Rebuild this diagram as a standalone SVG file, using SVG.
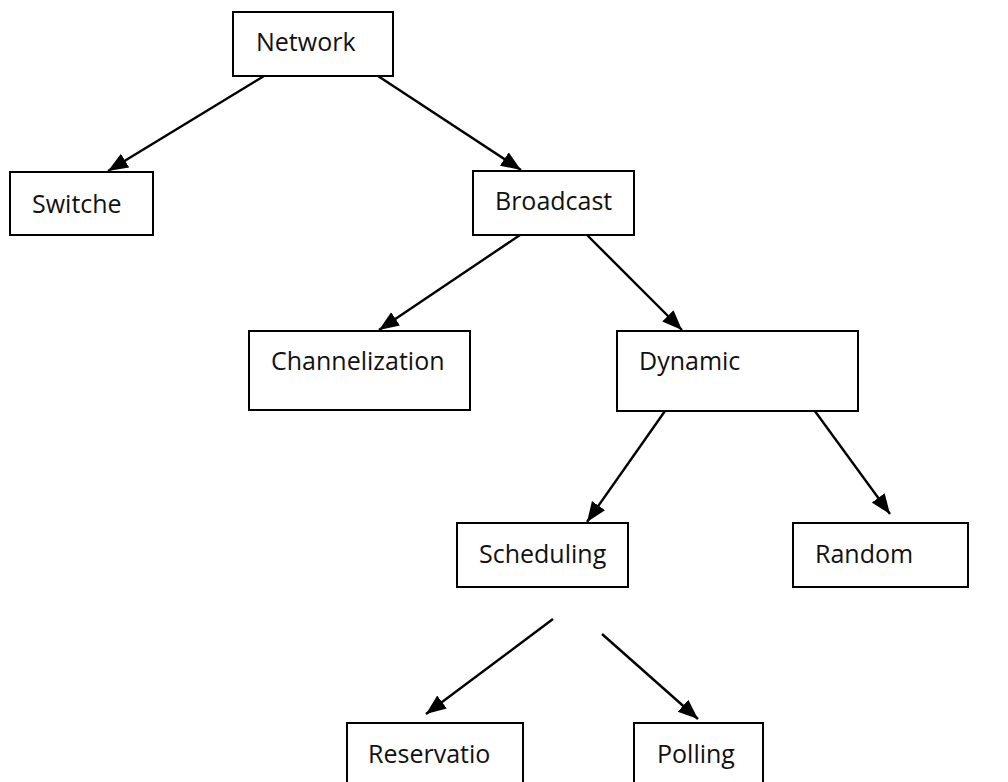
<svg xmlns="http://www.w3.org/2000/svg" width="1008" height="782" viewBox="0 0 1008 782">
<defs>
<marker id="arr" markerUnits="userSpaceOnUse" markerWidth="22" markerHeight="18" refX="20" refY="8" orient="auto">
<path d="M0,0 L20,8 L0,16 z" fill="#000"/>
</marker>
<style>
.box{fill:#fff;stroke:#000;stroke-width:2}
.lbl{font-family:"Open Sans","Liberation Sans",sans-serif;font-size:25px;fill:#111}
.conn{stroke:#000;stroke-width:2.4;fill:none;marker-end:url(#arr)}
</style>
</defs>
<rect width="1008" height="782" fill="#fff"/>
<g id="connectors">
<line class="conn" x1="264" y1="76" x2="108" y2="171"/>
<line class="conn" x1="378" y1="76" x2="521" y2="170"/>
<line class="conn" x1="520" y1="235" x2="379" y2="330"/>
<line class="conn" x1="587" y1="235" x2="682" y2="330"/>
<line class="conn" x1="665" y1="411" x2="587" y2="522"/>
<line class="conn" x1="809" y1="403" x2="890" y2="514"/>
<line class="conn" x1="553" y1="619" x2="426" y2="714"/>
<line class="conn" x1="602" y1="634" x2="698" y2="719"/>
</g>
<g id="network"><rect class="box" x="233" y="12" width="160" height="64"/><text class="lbl" x="256" y="51">Network</text></g>
<g id="switche"><rect class="box" x="10" y="172" width="143" height="63"/><text class="lbl" x="32" y="213">Switche</text></g>
<g id="broadcast"><rect class="box" x="473" y="171" width="161" height="64"/><text class="lbl" x="495" y="210">Broadcast</text></g>
<g id="channelization"><rect class="box" x="249" y="331" width="221" height="79"/><text class="lbl" x="271" y="370">Channelization</text></g>
<g id="dynamic"><rect class="box" x="617" y="331" width="241" height="80"/><text class="lbl" x="639" y="370">Dynamic</text></g>
<g id="scheduling"><rect class="box" x="457" y="523" width="171" height="64"/><text class="lbl" x="479" y="563">Scheduling</text></g>
<g id="random"><rect class="box" x="793" y="523" width="175" height="64"/><text class="lbl" x="815" y="563">Random</text></g>
<g id="reservatio"><rect class="box" x="347" y="723" width="176" height="70"/><text class="lbl" x="368" y="763">Reservatio</text></g>
<g id="polling"><rect class="box" x="634" y="723" width="129" height="70"/><text class="lbl" x="657" y="763">Polling</text></g>
</svg>
